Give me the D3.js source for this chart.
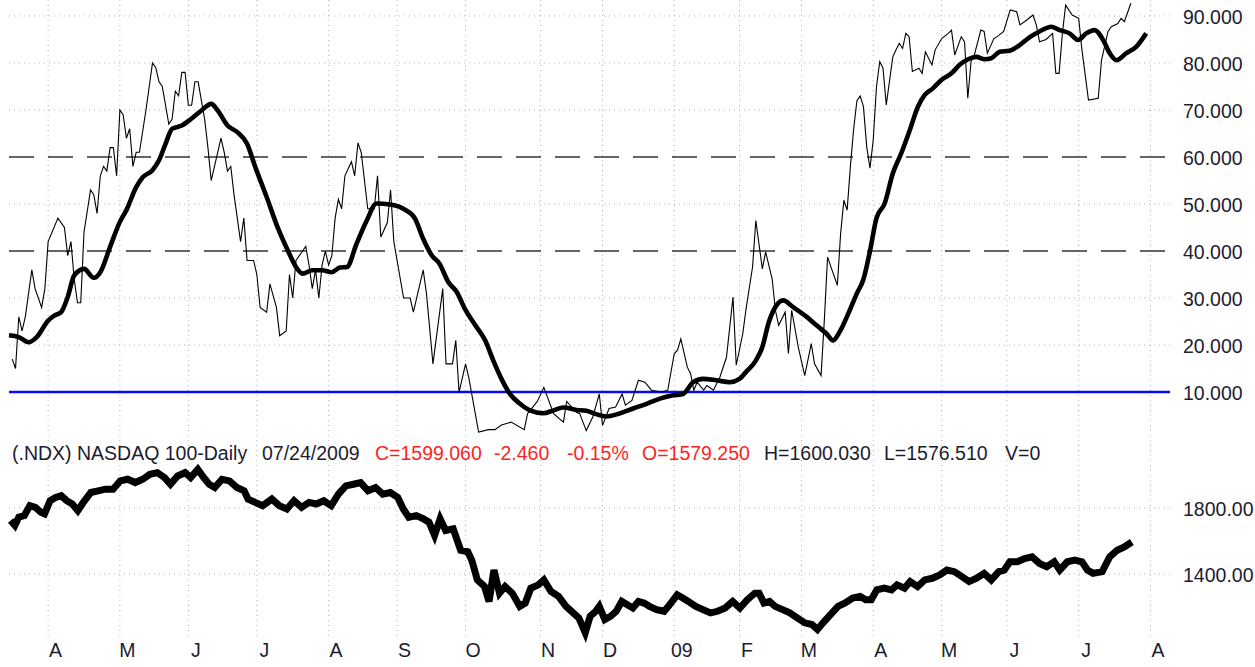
<!DOCTYPE html>
<html>
<head>
<meta charset="utf-8">
<script src="https://cdn.jsdelivr.net/npm/d3@7"></script>
<style>
body { margin: 0; background: #fff; }
text { font-family: "Liberation Sans", Arial, sans-serif; }
</style>
</head>
<body>
<div id="chart"></div>
<script>
// Trading calendar of the chart
const startDate = "2008-03-13";
const endDate = "2009-08-14";
const holidays = ["2008-03-21", "2008-05-26", "2008-07-04", "2008-09-01", "2008-11-27", "2008-12-25",
    "2009-01-01", "2009-01-19", "2009-02-16", "2009-04-10", "2009-05-25", "2009-07-03"];
const monthLabels = ["A", "M", "J", "J", "A", "S", "O", "N", "D", "09", "F", "M", "A", "M", "J", "J", "A"];

// Upper panel levels
const oscTicks = [10, 20, 30, 40, 50, 60, 70, 80, 90];
const dashedLevels = [40, 60];
const signalLevel = 10;

// Lower panel ticks
const priceTicks = [1400, 1800];

// Oscillator (thin line): [trading day, value]
const oscRaw = [
    [1, 17], [2, 15], [3, 26], [4, 23], [5, 26], [7, 36], [8, 32], [10, 28], [11, 32], [12, 42],
    [15, 47], [17, 45], [18, 39], [19, 42], [20, 34], [21, 29], [22, 29], [23, 44], [25, 53], [26, 52],
    [27, 48], [28, 56], [29, 58], [30, 57], [31, 62], [32, 62], [33, 56], [34, 70], [35, 69], [36, 64],
    [37, 66], [38, 58], [39, 61], [40, 61], [42, 70], [44, 80], [45, 79], [46, 76], [47, 75], [49, 67],
    [50, 68], [51, 74], [52, 73], [53, 78], [54, 78], [55, 71], [56, 71], [57, 76], [58, 76], [60, 68],
    [61, 62], [62, 55], [64, 61], [65, 64], [66, 61], [67, 57], [68, 58], [69, 52], [71, 42], [72, 47],
    [73, 38], [75, 38], [76, 35], [77, 28], [79, 27], [80, 33], [82, 28], [83, 22], [85, 23], [86, 35],
    [87, 30], [88, 38], [90, 40], [91, 41], [92, 37], [93, 32], [94, 36], [95, 30], [96, 37], [97, 40],
    [98, 37], [99, 39], [100, 47], [101, 51], [102, 49], [103, 56], [105, 59], [106, 56], [107, 63], [108, 61],
    [110, 49], [112, 49], [113, 56], [114, 43], [116, 46], [117, 53], [118, 42], [121, 30], [123, 30], [124, 27],
    [127, 36], [128, 31], [130, 16], [133, 32], [134, 16], [136, 16], [137, 21], [138, 10], [140, 16], [141, 13],
    [144, 1.5], [147, 2], [149, 2], [151, 3], [154, 3.6], [158, 2], [159, 5.4], [162, 8], [164, 11], [167, 5.4],
    [170, 3.6], [171, 8], [174, 5.7], [175, 5.4], [177, 1.8], [179, 4.7], [181, 9.6], [182, 2.9], [184, 6.5], [186, 6.8],
    [188, 9.6], [189, 7.2], [191, 8.2], [193, 12.5], [195, 12.1], [197, 10.4], [200, 10], [202, 10.4], [204, 18.2], [205, 18.9],
    [206, 21.3], [208, 15.3], [209, 13.9], [210, 10.4], [211, 12.1], [213, 10.4], [214, 11.4], [216, 10.4], [218, 13.2], [220, 17.4],
    [222, 30.2], [223, 15.7], [225, 22.4], [226, 27.7], [228, 36.6], [229, 46.5], [231, 36.2], [232, 39.8], [234, 34.1], [235, 27.4],
    [236, 24.2], [238, 27], [239, 18.2], [240, 27.4], [242, 19.6], [244, 13.5], [246, 20.3], [247, 16], [249, 13.5], [250, 25.2],
    [251, 38.7], [254, 32.7], [255, 43.7], [256, 50.8], [257, 48.7], [258, 58], [259, 66], [260, 72], [261, 73], [262, 70.7],
    [263, 62.2], [264, 57.6], [265, 63.6], [266, 75], [267, 80.3], [268, 78.9], [269, 71.1], [271, 81.3], [272, 82.8], [273, 84.2],
    [274, 83.1], [275, 86.3], [276, 85.6], [277, 78.2], [279, 78.9], [280, 77.8], [281, 82.4], [283, 79.6], [284, 82.8], [286, 85.2],
    [288, 86.3], [289, 87], [290, 81.7], [292, 85.6], [293, 84.5], [294, 72.5], [295, 80.3], [296, 81.7], [298, 87], [299, 86.7],
    [300, 82.1], [302, 85.2], [303, 85.6], [305, 86.7], [307, 91.3], [309, 90.9], [310, 88.1], [312, 89.1], [314, 90.2], [315, 88.1],
    [316, 84.5], [318, 85], [320, 86.3], [321, 77.8], [322, 77.8], [323, 86.3], [324, 92.3], [326, 90.2], [328, 89.5], [329, 82.8],
    [331, 72.1], [334, 72.5], [335, 80.6], [337, 86.7], [338, 87.7], [340, 88.4], [341, 89.5], [342, 88.8], [344, 92.7]
];

// Smoothed oscillator (thick line): [trading day, value]
const oscAvg = [
    [0, 22.1], [3, 21.7], [6, 20.6], [8.5, 21.7], [12, 25.2], [14, 26.3], [16, 27], [18, 30.2], [20, 34.8], [23, 36.2],
    [26, 34.3], [28, 35.5], [31, 40.9], [34, 46.2], [36, 48.7], [39, 53.6], [41, 55.7], [44, 57.2], [46, 59.3], [48, 62.8],
    [50, 66], [53, 66.7], [56, 68.2], [59, 69.9], [62, 71.3], [64, 69.9], [67, 66.7], [70, 65.3], [73, 62.8], [75.5, 57.9],
    [79, 51.5], [82.5, 44.8], [85.7, 39.8], [88, 36.6], [90, 35.2], [93, 35.9], [96, 35.9], [99, 35.5], [101.5, 36.5], [103.6, 36.6],
    [106.6, 41.6], [109.7, 46.5], [112.7, 50.1], [116.8, 49.9], [121.4, 48.8], [124.5, 46.9], [127, 42.6], [129.6, 39.1], [132, 37.3], [134.7, 33.4],
    [137.3, 31.3], [139.8, 27.7], [143, 24.2], [146, 21], [148.5, 16.7], [151, 12.8], [153.6, 9.6], [156.7, 7.5], [159.7, 6.1], [163.8, 5.5],
    [167, 6.1], [170, 6.7], [174, 6.2], [177, 6], [180, 5.3], [183, 4.8], [187, 5.4], [191.4, 6.5], [195.5, 7.5], [199.6, 8.6],
    [203.7, 9.3], [206.7, 9.6], [209.8, 12.1], [212.8, 12.8], [216.9, 12.5], [221, 12.1], [224, 12.8], [226, 14.3], [229, 16.7], [231, 19.6],
    [233, 24.9], [235, 28.1], [237.4, 29.5], [240.4, 28.1], [244.6, 26], [247.6, 24.2], [250.7, 22.4], [252.7, 21], [254.7, 22.8], [257.8, 27.4],
    [260, 31], [262, 34], [264, 40], [266, 47], [268.5, 50.1], [271, 56.5], [273.6, 60.8], [276.2, 65.7], [278.7, 70.7], [280.8, 73.2],
    [283.3, 74.6], [285.9, 76.4], [289, 77.8], [291.5, 79.6], [294.1, 80.8], [296.6, 81.3], [299.2, 80.8], [301.2, 81], [303.8, 82.4], [306.8, 82.6],
    [309.9, 83.8], [313, 85.5], [316, 86.7], [319.6, 87.7], [322.2, 87], [325.2, 86.3], [327.8, 84.9], [330.3, 86.3], [332.9, 87], [335.5, 84.9],
    [337.5, 82.1], [339.6, 80.6], [342.6, 82.1], [345.7, 83.5], [348.7, 86.3]
];

// NASDAQ 100 daily price: [trading day, value]
const ndxClose = [
    [0.5, 1724], [1.8, 1694], [3, 1744], [4.7, 1754], [6.4, 1814], [8.1, 1804], [9.8, 1774], [10.9, 1764], [12.6, 1844], [14.3, 1864],
    [16, 1874], [17.7, 1844], [19.4, 1824], [21.1, 1784], [22.8, 1834], [25.1, 1894], [27.3, 1904], [29.6, 1914], [31.9, 1914], [34.1, 1964],
    [36.4, 1974], [38.7, 1954], [41, 1974], [43.2, 2004], [45.5, 2014], [47.7, 1984], [49.5, 1944], [51.7, 1994], [54, 2014], [55.7, 1984],
    [57.9, 2034], [59.7, 1984], [61.4, 1944], [63.1, 1924], [65.3, 1974], [67.6, 1964], [69.9, 1924], [72.1, 1904], [73.3, 1854], [75.5, 1834],
    [77.8, 1814], [80.6, 1854], [82.9, 1814], [85.2, 1794], [87.4, 1844], [89.7, 1804], [92, 1834], [94.2, 1824], [96.5, 1844], [98.8, 1814],
    [101, 1884], [103.3, 1934], [105.6, 1944], [107.8, 1954], [110.1, 1904], [112.4, 1924], [114.6, 1884], [116.9, 1894], [119.2, 1864], [120.9, 1794],
    [122.6, 1744], [124.9, 1754], [127.1, 1734], [128.8, 1714], [130.5, 1634], [132.2, 1734], [133.9, 1664], [136.2, 1674], [138.5, 1544], [140.7, 1534],
    [141.9, 1484], [143.6, 1364], [145.8, 1324], [147.2, 1234], [148.7, 1424], [150.4, 1284], [152.1, 1324], [154.3, 1284], [156.6, 1204], [158.3, 1224],
    [160, 1314], [162.3, 1334], [164, 1364], [166.2, 1294], [168.5, 1264], [170.8, 1204], [173, 1164], [174.7, 1134], [175.4, 1104], [176.7, 1044],
    [178.2, 1144], [179.9, 1174], [181, 1204], [182.7, 1124], [184.5, 1144], [186.2, 1174], [187.9, 1234], [189.6, 1214], [191.3, 1194], [193, 1234],
    [194.7, 1224], [196.4, 1204], [198.6, 1184], [200.9, 1174], [202.6, 1214], [204.9, 1274], [206.6, 1254], [208.3, 1234], [210.6, 1204], [212.8, 1184],
    [215.1, 1164], [217.3, 1174], [219.6, 1194], [221.9, 1234], [224.1, 1194], [226.4, 1244], [228.7, 1284], [230, 1284], [231.5, 1224], [233.2, 1234],
    [234.9, 1204], [237.2, 1184], [239.4, 1164], [241.7, 1134], [244, 1104], [246.2, 1094], [247.9, 1064], [249.6, 1104], [251.9, 1154], [254.2, 1204],
    [256.4, 1224], [258.7, 1254], [261, 1264], [262.7, 1244], [264.4, 1244], [266.1, 1304], [268.4, 1314], [270.6, 1304], [272.3, 1334], [274.6, 1314],
    [276.3, 1354], [278.6, 1324], [280.8, 1364], [283.1, 1374], [285.4, 1394], [287.6, 1424], [289.9, 1414], [292.2, 1384], [294.4, 1354], [296.7, 1374],
    [299, 1404], [301.2, 1364], [303.5, 1414], [305.2, 1424], [306.9, 1474], [309.2, 1474], [311.4, 1494], [313.7, 1504], [316, 1464], [318.2, 1444],
    [320.5, 1474], [322.2, 1424], [324.5, 1474], [326.8, 1484], [329, 1474], [330.7, 1424], [332.4, 1404], [335.2, 1414], [337.5, 1504], [339.8, 1544],
    [342, 1564], [344.3, 1594]
];

// Quote line between the panels
const headerText = ["(.NDX) NASDAQ 100-Daily", "07/24/2009", "C=1599.060", "-2.460", "-0.15%",
    "O=1579.250", "H=1600.030", "L=1576.510", "V=0"];
const headerRed = [false, false, true, true, true, true, false, false, false];
const headerX = [12, 262, 375, 494, 567, 642, 764, 884, 1005];

const width = 1255, height = 667;
const textColor = "#1c1c30";
const fontSize = "19.5px";

// Build the trading days and the first day of each month
const fmt = d3.timeFormat("%Y-%m-%d");
const holidaySet = new Set(holidays);
const days = d3.timeDay.range(new Date(startDate + "T00:00"), new Date(endDate + "T23:00"))
    .filter(d => d.getDay() > 0 && d.getDay() < 6 && !holidaySet.has(fmt(d)));
const monthIdx = [];
days.forEach((d, i) => {
    if (i > 0 && d.getMonth() !== days[i - 1].getMonth()) monthIdx.push(i);
});

const svg = d3.select("#chart").append("svg")
    .attr("width", width)
    .attr("height", height);

// Scales
const plotLeft = 9, plotRight = 1170;
const x = d3.scaleLinear().domain([0, 356]).range([plotLeft, plotRight]);
const yOsc = d3.scaleLinear().domain([-0.2, 93.4]).range([440, 0]);
const yPrice = d3.scaleLinear().domain([1000, 2212]).range([640, 440]);

const grid = svg.append("g").attr("class", "grid");

// Vertical month gridlines, both panels
grid.selectAll(".vgrid")
    .data(monthIdx)
    .enter().append("line")
    .attr("x1", d => x(d)).attr("x2", d => x(d))
    .attr("y1", 0).attr("y2", 638)
    .attr("stroke", "#b4b4b4")
    .attr("stroke-width", 1)
    .attr("stroke-dasharray", "1,4");

// Horizontal dotted gridlines, top panel
grid.selectAll(".hgrid")
    .data(oscTicks.filter(v => v !== signalLevel && !dashedLevels.includes(v)))
    .enter().append("line")
    .attr("x1", plotLeft).attr("x2", plotRight)
    .attr("y1", d => yOsc(d)).attr("y2", d => yOsc(d))
    .attr("stroke", "#b4b4b4")
    .attr("stroke-dasharray", "1,4");

// Horizontal dotted gridlines, bottom panel
grid.selectAll(".pgrid")
    .data(priceTicks)
    .enter().append("line")
    .attr("x1", plotLeft).attr("x2", plotRight)
    .attr("y1", d => yPrice(d)).attr("y2", d => yPrice(d))
    .attr("stroke", "#b4b4b4")
    .attr("stroke-dasharray", "1,4");

// Dashed levels
svg.selectAll(".dashed")
    .data(dashedLevels)
    .enter().append("line")
    .attr("x1", plotLeft).attr("x2", plotRight + 3)
    .attr("y1", d => yOsc(d)).attr("y2", d => yOsc(d))
    .attr("stroke", "#333")
    .attr("stroke-width", 1.4)
    .attr("stroke-dasharray", "25,14");

// Blue signal level
svg.append("line")
    .attr("x1", plotLeft).attr("x2", plotRight)
    .attr("y1", yOsc(signalLevel)).attr("y2", yOsc(signalLevel))
    .attr("stroke", "#0a0af0")
    .attr("stroke-width", 2.6);

// Oscillator lines
const oscLine = d3.line().x(d => x(d[0])).y(d => yOsc(d[1]));
svg.append("path")
    .datum(oscRaw)
    .attr("d", oscLine)
    .attr("fill", "none")
    .attr("stroke", "#000")
    .attr("stroke-width", 1.1);

svg.append("path")
    .datum(oscAvg)
    .attr("d", oscLine.curve(d3.curveMonotoneX))
    .attr("fill", "none")
    .attr("stroke", "#000")
    .attr("stroke-width", 4.6)
    .attr("stroke-linejoin", "round");

// Price line, drawn heavy like the daily bars
const priceLine = d3.line().x(d => x(d[0])).y(d => yPrice(d[1]));
svg.append("path")
    .datum(ndxClose)
    .attr("d", priceLine)
    .attr("fill", "none")
    .attr("stroke", "#000")
    .attr("stroke-width", 7)
    .attr("stroke-linejoin", "miter");

// Right axis labels
const oscAxis = svg.append("g")
    .attr("transform", "translate(" + plotRight + ",0)")
    .call(d3.axisRight(yOsc).tickValues(oscTicks).tickSize(0).tickPadding(13).tickFormat(d3.format(".3f")));
const priceAxis = svg.append("g")
    .attr("transform", "translate(" + plotRight + ",0)")
    .call(d3.axisRight(yPrice).tickValues(priceTicks).tickSize(0).tickPadding(13).tickFormat(d3.format(".2f")));
[oscAxis, priceAxis].forEach(g => {
    g.select(".domain").remove();
    g.selectAll("text")
        .attr("dy", "0.4em")
        .style("font-size", fontSize)
        .style("font-family", "'Liberation Sans', Arial, sans-serif")
        .attr("fill", textColor);
});

// Month labels
const monthAxis = svg.append("g")
    .attr("transform", "translate(0,643)")
    .call(d3.axisBottom(x).tickValues(monthIdx).tickSize(0).tickPadding(0)
        .tickFormat((d, i) => monthLabels[i]));
monthAxis.select(".domain").remove();
monthAxis.selectAll("text")
    .attr("dx", 7)
    .attr("dy", "0.71em")
    .style("font-size", fontSize)
    .style("font-family", "'Liberation Sans', Arial, sans-serif")
    .attr("fill", textColor);

// Quote header
svg.selectAll(".header")
    .data(headerText)
    .enter().append("text")
    .attr("x", (d, i) => headerX[i])
    .attr("y", 460)
    .style("font-size", fontSize)
    .attr("fill", (d, i) => headerRed[i] ? "#ff1f1f" : textColor)
    .text(d => d);
</script>
</body>
</html>
